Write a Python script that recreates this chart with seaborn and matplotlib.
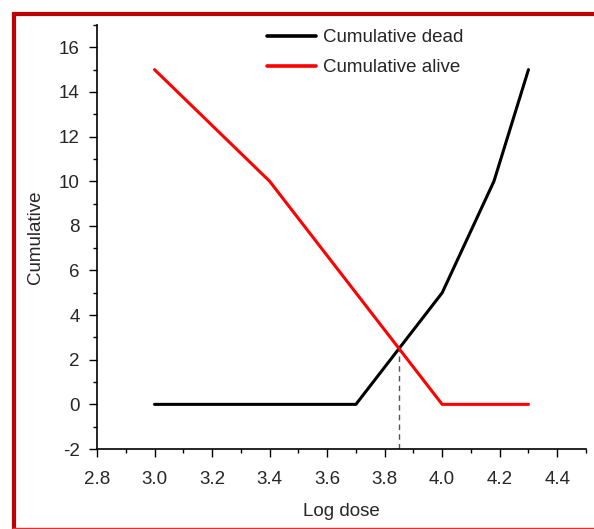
import pandas as pd
import seaborn as sns
import matplotlib.pyplot as plt
from matplotlib.lines import Line2D
from matplotlib.ticker import MultipleLocator

# data
log_dose = [3.0, 3.4, 3.7, 4.0, 4.18, 4.3]
cum_dead = [0, 0, 0, 5, 10, 15]
cum_alive = [15, 10, 5, 0, 0, 0]
ld50_x = 3.85
ld50_y = 2.5

df = pd.DataFrame({
    'Log dose': log_dose * 2,
    'Cumulative': cum_dead + cum_alive,
    'series': ['Cumulative dead'] * len(log_dose) + ['Cumulative alive'] * len(log_dose),
})

sns.set_style('ticks')
plt.rcParams['font.family'] = ['Liberation Sans', 'DejaVu Sans']
plt.rcParams['font.size'] = 13.5
plt.rcParams['axes.unicode_minus'] = False

fig = plt.figure(figsize=(5.94, 5.29), dpi=100)
ax = fig.add_axes([97 / 594, 1 - 449 / 529, (586 - 97) / 594, (449 - 25) / 529])

sns.lineplot(data=df, x='Log dose', y='Cumulative', hue='series',
             palette={'Cumulative dead': 'black', 'Cumulative alive': '#ff0000'},
             linewidth=2.2, ax=ax, sort=False)

ax.plot([ld50_x, ld50_x], [-2, ld50_y], color='#555555', linestyle=(0, (4, 3)), linewidth=1)

ax.set_xlim(2.8, 4.5)
ax.set_ylim(-2, 17)
ax.xaxis.set_major_locator(MultipleLocator(0.2))
ax.xaxis.set_minor_locator(MultipleLocator(0.1))
ax.yaxis.set_major_locator(MultipleLocator(2))
ax.yaxis.set_minor_locator(MultipleLocator(1))
ax.set_xticks([2.8, 3.0, 3.2, 3.4, 3.6, 3.8, 4.0, 4.2, 4.4])
ax.set_xticklabels(['2.8', '3.0', '3.2', '3.4', '3.6', '3.8', '4.0', '4.2', '4.4'])
ax.set_yticks(range(-2, 17, 2))
ax.set_yticklabels([str(v) for v in range(-2, 17, 2)])
ax.tick_params(which='major', length=5.5, width=1, pad=7, color='black', labelsize=13.5)
ax.tick_params(axis='x', which='major', pad=10)
ax.tick_params(which='minor', length=3, width=1, color='black')
for s in ['top', 'right']:
    ax.spines[s].set_visible(False)
for s in ['left', 'bottom']:
    ax.spines[s].set_linewidth(1.2)
    ax.spines[s].set_color('black')

ax.set_xlabel('Log dose', labelpad=11)
ax.set_ylabel('Cumulative', labelpad=10.5)

leg = ax.legend(loc='upper left', bbox_to_anchor=(267 / 594, 1 - 29 / 529),
                bbox_transform=fig.transFigure, frameon=False, title=None,
                handlelength=2.6, handletextpad=0.37, labelspacing=0.7,
                borderpad=0, borderaxespad=0, fontsize=13.5)
for h in leg.get_lines():
    h.set_linewidth(2.6)

# red frame around the figure
fig.add_artist(Line2D([12 / 594, 1], [1 - 13.5 / 529] * 2, transform=fig.transFigure,
                      color='#c00000', linewidth=3, solid_capstyle='butt'))
fig.add_artist(Line2D([13.5 / 594] * 2, [0, 1 - 12 / 529], transform=fig.transFigure,
                      color='#c00000', linewidth=3, solid_capstyle='butt'))
fig.add_artist(Line2D([12 / 594, 1], [1.5 / 529] * 2, transform=fig.transFigure,
                      color='#e03030', linewidth=1, solid_capstyle='butt'))

fig.savefig('out.png', dpi=100)
